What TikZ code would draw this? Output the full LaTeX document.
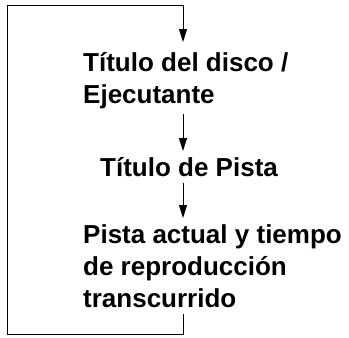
\documentclass[tikz,border=0pt]{standalone}
\usepackage{fontspec}
\setmainfont{Liberation Sans}
\usetikzlibrary{arrows.meta}
\begin{document}
\begin{tikzpicture}[x=1pt,y=-1pt,
  lbl/.style={font=\fontsize{26}{32}\selectfont\bfseries, align=left, inner sep=0pt, anchor=north west},
  flow/.style={line width=1pt, -{Triangle[length=13pt,width=8pt]}}]
\useasboundingbox (0,0) rectangle (349,338);
\node[lbl] (disc) at (83,52) {Título del disco /\\Ejecutante};
\node[lbl] (track) at (100,157) {Título de Pista};
\node[lbl] (now) at (83,224) {Pista actual y tiempo\\de reproducción\\transcurrido};
\coordinate (xr) at (183,0);
\coordinate (lt) at (7,5);
\coordinate (lb) at (7,334);
\draw[flow, shorten <=5pt, shorten >=6pt] (disc.south -| xr) -- (track.north -| xr);
\draw[flow, shorten <=6pt, shorten >=6pt] (track.south -| xr) -- (now.north -| xr);
\draw[flow, shorten <=7pt, shorten >=10pt] (now.south -| xr) |- (lb) -- (lt) -| (disc.north -| xr);
\end{tikzpicture}
\end{document}
